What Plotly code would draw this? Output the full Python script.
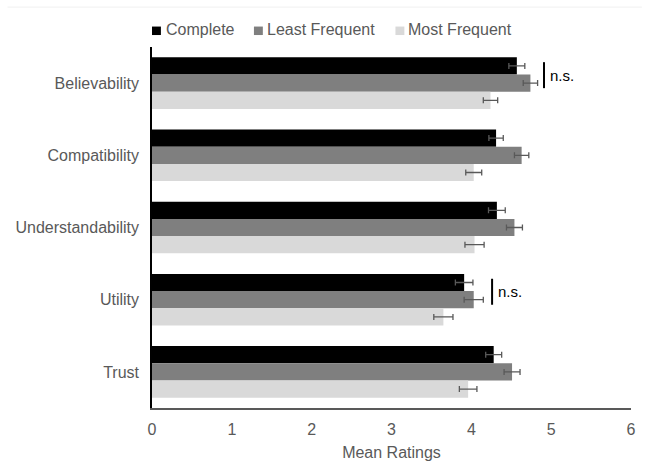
import plotly.graph_objects as go

categories = ["Believability", "Compatibility", "Understandability", "Utility", "Trust"]
series_names = ["Complete", "Least Frequent", "Most Frequent"]
complete = [4.57, 4.31, 4.32, 3.91, 4.28]
least_frequent = [4.74, 4.63, 4.54, 4.03, 4.51]
most_frequent = [4.24, 4.03, 4.04, 3.65, 3.96]
complete_err = [0.10, 0.09, 0.105, 0.11, 0.10]
least_err = [0.09, 0.09, 0.10, 0.12, 0.10]
most_err = [0.09, 0.10, 0.12, 0.12, 0.11]
x_ticks = [0, 1, 2, 3, 4, 5, 6]
ns_labels = [("Believability", 4.91), ("Utility", 4.26)]

colors = ["#000000", "#7f7f7f", "#d9d9d9"]
values = [complete, least_frequent, most_frequent]
errors = [complete_err, least_err, most_err]

FONT = "Liberation Sans, Arial, sans-serif"
TXT = "#595959"

W, H = 647, 470
PL, PR, PT, PB = 152, 636, 47, 409  # plot area in pixels
PW, PH = PR - PL, PB - PT
ML, MT, MR, MB = PL, PT, W - PR, H - PB

fig = go.Figure()
for name, vals, errs, col in zip(series_names, values, errors, colors):
    fig.add_trace(go.Bar(
        y=categories, x=vals, name=name, orientation="h",
        marker=dict(color=col, line=dict(width=0)),
        error_x=dict(type="data", array=errs, visible=True,
                     color="#595959", thickness=1.3, width=3),
        showlegend=False,
    ))

shapes = []
annotations = []

def px_x(x):
    return (x - PL) / PW

def px_y(y):
    return (PB - y) / PH

# legend (custom, to mimic the original spacing)
leg_items = [(152, 164.5), (255, 266.5), (398, 409)]
for (sq_x, tx_x), name, col in zip(leg_items, series_names, colors):
    shapes.append(dict(type="rect", xref="paper", yref="paper",
                       x0=px_x(sq_x), x1=px_x(sq_x + 9),
                       y0=px_y(35), y1=px_y(26.5),
                       fillcolor=col, line=dict(width=0)))
    annotations.append(dict(xref="paper", yref="paper",
                            x=px_x(tx_x), y=px_y(29.5),
                            xanchor="left", yanchor="middle", showarrow=False,
                            text=name, font=dict(family=FONT, size=16, color=TXT)))

# n.s. markers
for cat, xv in ns_labels:
    idx = categories.index(cat)
    shapes.append(dict(type="line", xref="x", yref="y",
                       x0=xv, x1=xv, y0=idx - 0.29, y1=idx + 0.07,
                       line=dict(color="#000000", width=2)))
    annotations.append(dict(xref="x", yref="y", x=xv, y=idx - 0.11,
                            xanchor="left", yanchor="middle", xshift=4,
                            showarrow=False, text="n.s.",
                            font=dict(family=FONT, size=15, color="#000000")))

# faint top border line
shapes.append(dict(type="line", xref="paper", yref="paper",
                   x0=px_x(6), x1=px_x(W), y0=px_y(7), y1=px_y(7),
                   line=dict(color="#f0f0f0", width=1)))

fig.update_layout(
    width=W, height=H,
    margin=dict(l=ML, r=MR, t=MT, b=MB),
    paper_bgcolor="white", plot_bgcolor="white",
    barmode="group", bargap=0.286, bargroupgap=0,
    font=dict(family=FONT, size=16, color=TXT),
    shapes=shapes, annotations=annotations,
    xaxis=dict(range=[0, 6], tickvals=x_ticks, ticktext=[str(t) for t in x_ticks],
               showgrid=False, zeroline=False, showline=True,
               linecolor="#595959", linewidth=2, ticks="",
               tickfont=dict(family=FONT, size=16, color=TXT),
               ticklabelstandoff=6,
               title=dict(text="Mean Ratings", standoff=10,
                          font=dict(family=FONT, size=16, color=TXT))),
    yaxis=dict(autorange="reversed", showgrid=False, zeroline=False,
               showline=True, linecolor="#000000", linewidth=1.5, ticks="",
               tickfont=dict(family=FONT, size=16, color=TXT),
               ticklabelstandoff=8),
)

fig.write_html(
    "out.html",
    config={"displayModeBar": False},
    post_script="document.body.style.margin='0';"
                "document.documentElement.style.overflow='hidden';",
)
